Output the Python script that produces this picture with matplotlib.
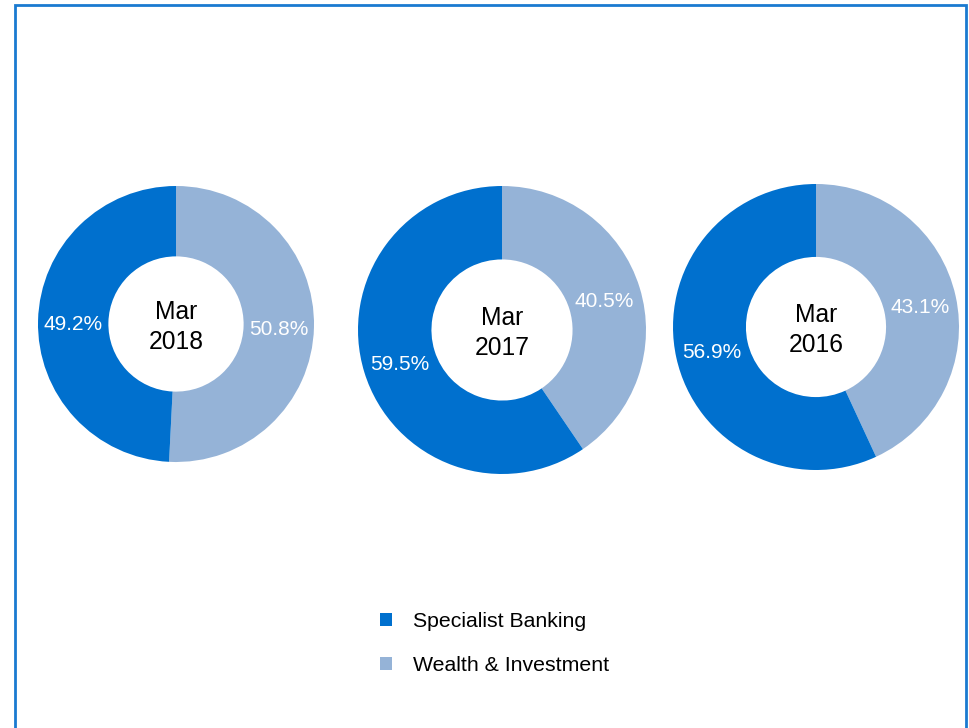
import matplotlib
matplotlib.use("Agg")
import matplotlib.pyplot as plt
from matplotlib.patches import Rectangle, Patch

plt.rcParams['font.family'] = ['Liberation Sans', 'DejaVu Sans']

periods = ["Mar\n2018", "Mar\n2017", "Mar\n2016"]
specialist_banking = [49.2, 59.5, 56.9]
wealth_investment = [50.8, 40.5, 43.1]
series_names = ["Specialist Banking", "Wealth & Investment"]
colors = ["#0070CE", "#95B3D7"]

W, H = 970, 728
fig = plt.figure(figsize=(W / 100, H / 100), dpi=100)
ax = fig.add_axes([0, 0, 1, 1])

# layout (pixel coordinates, y from top)
centers = [(176, 324), (502, 330), (816, 327)]
radii = [138, 144, 143]
hole_frac = 0.49

for (cx, cy), r, per, sb, wi in zip(centers, radii, periods, specialist_banking, wealth_investment):
    wedges, texts, autotexts = ax.pie(
        [wi, sb], colors=[colors[1], colors[0]], startangle=90, counterclock=False,
        center=(cx, H - cy), radius=r, frame=True,
        autopct=lambda p: f"{p:.1f}%", pctdistance=(1 + hole_frac) / 2,
        wedgeprops=dict(width=r * (1 - hole_frac), linewidth=0),
        textprops=dict(color="white", fontsize=15))
    for t in autotexts:
        x, y = t.get_position()
        t.set_position((x, y - 3))
    ax.text(cx, H - cy - 3, per, ha="center", va="center", fontsize=17.7,
            color="black", linespacing=1.33)

ax.set_xlim(0, W)
ax.set_ylim(0, H)
ax.set_aspect("equal")
ax.axis("off")

# border
fig.patches.append(Rectangle((15 / W, -0.05), (966 - 15) / W, (H - 5) / H + 0.05,
                             transform=fig.transFigure, fill=False,
                             edgecolor="#1A7AD0", linewidth=2, zorder=10))

handles = [Patch(facecolor=colors[0], edgecolor="none"),
           Patch(facecolor=colors[1], edgecolor="none")]
fig.legend(handles, series_names, loc="upper left",
           bbox_to_anchor=(361 / W, 1 - 593 / H), frameon=False,
           fontsize=15.3, handlelength=0.55, handleheight=0.55,
           handletextpad=1.0, labelspacing=1.17)

fig.savefig("out.png", dpi=100)
